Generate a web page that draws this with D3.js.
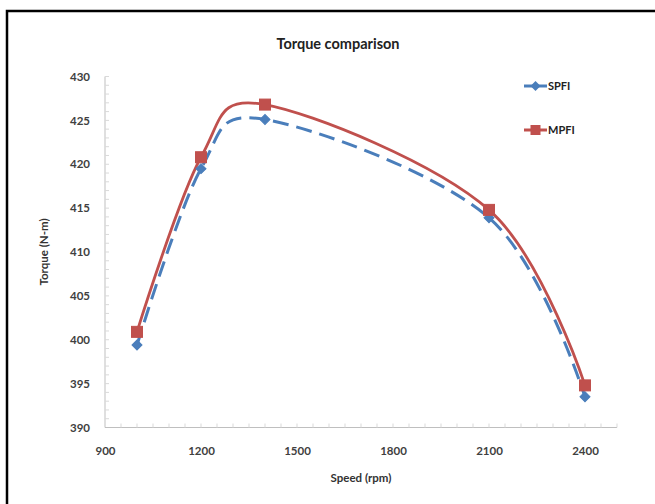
<!DOCTYPE html>
<html><head><meta charset="utf-8">
<script src="https://cdn.jsdelivr.net/npm/d3@7"></script>
<style>body{margin:0;background:#fff}svg{display:block}</style>
</head><body><svg id="c" width="655" height="504"></svg>
<script>
const speeds = [1000, 1200, 1400, 2100, 2400];
const spfi = [399.4, 419.5, 425.1, 413.9, 393.5];
const mpfi = [400.9, 420.8, 426.8, 414.8, 394.8];
const xTicks = [900, 1200, 1500, 1800, 2100, 2400];
const yTicks = [390, 395, 400, 405, 410, 415, 420, 425, 430];
const seriesNames = ["SPFI", "MPFI"];

const svg = d3.select("#c");
const font = "Lato, 'Open Sans', sans-serif";
const x = d3.scaleLinear().domain([900, 2500]).range([105, 617]);
const y = d3.scaleLinear().domain([390, 430]).range([427.5, 76.5]);

// frame (cropped at right/bottom)
svg.append("rect").attr("x", 7).attr("y", 11).attr("width", 700).attr("height", 600)
  .attr("fill", "none").attr("stroke", "#000").attr("stroke-width", 2.5);

// axes
const axisCol = "#bfbfbf";
svg.append("line").attr("x1", x(900)).attr("x2", x(900)).attr("y1", y(430)).attr("y2", y(390)).attr("stroke", axisCol);
svg.append("line").attr("x1", x(900)).attr("x2", x(2500)).attr("y1", y(390)).attr("y2", y(390)).attr("stroke", axisCol);
// minor ticks
svg.append("g").selectAll("line").data(d3.range(391, 431, 1)).join("line")
  .attr("x1", x(900)).attr("x2", x(900) + 4).attr("y1", d => y(d)).attr("y2", d => y(d))
  .attr("stroke", "#d9d9d9");
svg.append("g").selectAll("line").data(d3.range(950, 2501, 50)).join("line")
  .attr("x1", d => x(d)).attr("x2", d => x(d)).attr("y1", y(390)).attr("y2", y(390) - 4)
  .attr("stroke", "#d9d9d9");

const yAxis = d3.axisLeft(y).tickValues(yTicks).tickSize(0).tickPadding(15);
const gy = svg.append("g").attr("transform", `translate(${x(900)},0)`).call(yAxis);
gy.select(".domain").remove();
gy.selectAll("text").attr("font-family", font).attr("font-size", 11.5).attr("font-weight", "bold").attr("fill", "#404040");

const xAxis = d3.axisBottom(x).tickValues(xTicks).tickFormat(d3.format("d")).tickSize(0).tickPadding(19);
const gx = svg.append("g").attr("transform", `translate(0,${y(390)})`).call(xAxis);
gx.select(".domain").remove();
gx.selectAll("text").attr("font-family", font).attr("font-size", 11.5).attr("font-weight", "bold").attr("fill", "#404040");

// titles
svg.append("text").attr("x", 338).attr("y", 49).attr("text-anchor", "middle")
  .attr("font-family", font).attr("font-size", 14.5).attr("font-weight", "bold").attr("fill", "#222").text("Torque comparison");
svg.append("text").attr("x", 361).attr("y", 482).attr("text-anchor", "middle")
  .attr("font-family", font).attr("font-size", 11.5).attr("font-weight", "bold").attr("fill", "#333").text("Speed (rpm)");
svg.append("text").attr("transform", "translate(48,252) rotate(-90)").attr("text-anchor", "middle")
  .attr("font-family", font).attr("font-size", 11.5).attr("font-weight", "bold").attr("fill", "#333").text("Torque (N-m)");

const blue = "#4a7ebb", red = "#c0504d";
const line = d3.line().x(d => x(d[0])).y(d => y(d[1])).curve(d3.curveCardinal.tension(0));

const sData = speeds.map((s, i) => [s, spfi[i]]);
const mData = speeds.map((s, i) => [s, mpfi[i]]);

svg.append("path").datum(sData).attr("d", line).attr("fill", "none").attr("stroke", blue)
  .attr("stroke-width", 3).attr("stroke-dasharray", "16,8");
svg.append("path").datum(mData).attr("d", line).attr("fill", "none").attr("stroke", red)
  .attr("stroke-width", 2.8);

const diamond = d3.symbol().type(d3.symbolSquare).size(50);
svg.append("g").selectAll("path").data(sData).join("path")
  .attr("d", diamond).attr("transform", d => `translate(${x(d[0])},${y(d[1])}) rotate(45)`)
  .attr("fill", blue).attr("stroke", blue);
svg.append("g").selectAll("rect").data(mData).join("rect")
  .attr("x", d => x(d[0]) - 5.5).attr("y", d => y(d[1]) - 5.5).attr("width", 11).attr("height", 11)
  .attr("fill", red).attr("stroke", red);

// legend
const leg = [{n: seriesNames[0], c: blue, yy: 86, t: "d"}, {n: seriesNames[1], c: red, yy: 130, t: "s"}];
leg.forEach(l => {
  svg.append("line").attr("x1", 524).attr("x2", 547).attr("y1", l.yy).attr("y2", l.yy).attr("stroke", l.c).attr("stroke-width", 3);
  if (l.t === "d") {
    svg.append("path").attr("d", diamond).attr("transform", `translate(535.5,${l.yy}) rotate(45)`).attr("fill", l.c);
  } else {
    svg.append("rect").attr("x", 530.5).attr("y", l.yy - 5).attr("width", 10).attr("height", 10).attr("fill", l.c);
  }
  svg.append("text").attr("x", 548).attr("y", l.yy + 4).attr("font-family", font).attr("font-size", 11)
    .attr("font-weight", "bold").attr("fill", "#222").text(l.n);
});
</script></body></html>
